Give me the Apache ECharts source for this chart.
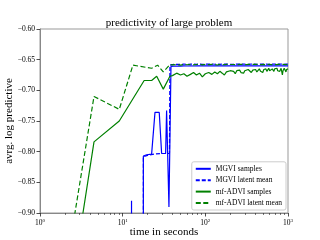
<!DOCTYPE html>
<html><head><meta charset="utf-8">
<script src="https://cdn.jsdelivr.net/npm/echarts@6/dist/echarts.min.js"></script>
<style>html,body{margin:0;padding:0;background:#fff}#c{width:320px;height:240px}</style>
</head><body><div id="c"></div>
<script>
// ---- data ----
var titleText = 'predictivity of large problem';
var xLabel = 'time in seconds';
var yLabel = 'avrg. log predictive';
var seriesNames = ['MGVI samples', 'MGVI latent mean', 'mf-ADVI samples', 'mf-ADVI latent mean'];
var yTicks = [-0.90, -0.85, -0.80, -0.75, -0.70, -0.65, -0.60];
var xTicks = [1, 10, 100, 1000];
var xMinorTicks = [2,3,4,5,6,7,8,9,20,30,40,50,60,70,80,90,200,300,400,500,600,700,800,900];

// early (sparse) parts
var mgviSamplesT = [12.7, 12.8, 12.9, 17.7, 17.8, 19.5, 22.4, 24.6, 27.7, 29.6, 33.1, 34.0, 36.3, 38.4];
var mgviSamplesV = [-2.0, -0.880, -2.0, -2.0, -0.807, -0.805, -0.804, -0.736, -0.736, -0.803, -0.803, -0.733, -0.890, -0.661];
var mgviMeanT = [17.7, 17.8, 20.0, 24.0, 29.0, 36.8, 37.3];
var mgviMeanV = [-2.0, -0.808, -0.806, -0.804, -0.803, -0.803, -0.659];
var advSamplesT = [2.0, 4.5, 9.1, 18.2, 22.4, 25.8, 31.0, 37.3];
var advSamplesV = [-1.09, -0.784, -0.750, -0.684, -0.684, -0.677, -0.698, -0.677];
var advMeanT = [2.0, 4.5, 9.1, 13.3, 22.4, 26.5, 31.0, 37.3];
var advMeanV = [-1.00, -0.710, -0.731, -0.659, -0.664, -0.659, -0.670, -0.658];

// later (dense) parts, shared times
var denseT = [40,45,50,55,60,66,72,78,85,92,100,110,120,130,140,150,160,170,180,190,200,210,220,230,240,250,260,270,280,290,300,315,330,345,360,375,390,405,420,435,450,465,480,495,510,525,540,555,570,585,600,615,630,645,660,675,690,705,720,735,750,765,780,795,810,825,840,855,870,885,900,915,930,945,960,975,990,1000];
var mgviSamplesDense = [-0.6605,-0.6603,-0.6604,-0.6602,-0.6603,-0.6602,-0.6603,-0.6602,-0.6601,-0.6602,-0.6601,-0.6602,-0.6601,-0.6602,-0.6601,-0.6601,-0.6602,-0.6601,-0.6601,-0.6602,-0.6601,-0.6601,-0.6602,-0.6601,-0.6601,-0.6601,-0.6602,-0.6601,-0.6601,-0.6601,-0.6602,-0.6601,-0.6601,-0.6601,-0.6601,-0.6602,-0.6601,-0.6601,-0.6601,-0.6601,-0.6602,-0.6601,-0.6601,-0.6601,-0.6601,-0.6601,-0.6602,-0.6601,-0.6601,-0.6601,-0.6601,-0.6601,-0.6602,-0.6601,-0.6601,-0.6601,-0.6601,-0.6601,-0.6601,-0.6602,-0.6601,-0.6601,-0.6601,-0.6601,-0.6601,-0.6601,-0.6602,-0.6601,-0.6601,-0.6601,-0.6601,-0.6601,-0.6601,-0.6601,-0.6602,-0.6601,-0.6601,-0.6601];
var mgviMeanDense = [-0.6580,-0.6575,-0.6578,-0.6572,-0.6576,-0.6574,-0.6570,-0.6575,-0.6573,-0.6577,-0.6572,-0.6574,-0.6571,-0.6575,-0.6573,-0.6576,-0.6572,-0.6574,-0.6573,-0.6571,-0.6575,-0.6572,-0.6574,-0.6576,-0.6572,-0.6573,-0.6571,-0.6575,-0.6573,-0.6572,-0.6574,-0.6573,-0.6575,-0.6572,-0.6573,-0.6571,-0.6574,-0.6573,-0.6575,-0.6572,-0.6574,-0.6573,-0.6572,-0.6575,-0.6573,-0.6571,-0.6574,-0.6572,-0.6573,-0.6575,-0.6572,-0.6574,-0.6573,-0.6572,-0.6574,-0.6573,-0.6575,-0.6572,-0.6573,-0.6574,-0.6572,-0.6573,-0.6575,-0.6572,-0.6574,-0.6573,-0.6572,-0.6574,-0.6573,-0.6575,-0.6572,-0.6573,-0.6574,-0.6572,-0.6573,-0.6575,-0.6572,-0.6573];
var advSamplesDense = [-0.676,-0.672,-0.675,-0.673,-0.677,-0.674,-0.671,-0.675,-0.672,-0.678,-0.673,-0.671,-0.674,-0.670,-0.673,-0.669,-0.672,-0.675,-0.670,-0.672,-0.668,-0.671,-0.669,-0.673,-0.668,-0.670,-0.667,-0.671,-0.669,-0.672,-0.668,-0.670,-0.666,-0.669,-0.671,-0.667,-0.669,-0.666,-0.670,-0.668,-0.665,-0.669,-0.667,-0.671,-0.666,-0.668,-0.665,-0.669,-0.667,-0.664,-0.668,-0.666,-0.670,-0.665,-0.667,-0.669,-0.665,-0.668,-0.666,-0.664,-0.668,-0.667,-0.665,-0.669,-0.666,-0.664,-0.667,-0.675,-0.668,-0.666,-0.664,-0.667,-0.665,-0.670,-0.666,-0.664,-0.667,-0.665];
var advMeanDense = [-0.6585,-0.6580,-0.6590,-0.6578,-0.6583,-0.6577,-0.6586,-0.6579,-0.6575,-0.6584,-0.6578,-0.6581,-0.6576,-0.6580,-0.6587,-0.6577,-0.6579,-0.6583,-0.6576,-0.6580,-0.6578,-0.6605,-0.6579,-0.6577,-0.6582,-0.6578,-0.6576,-0.6580,-0.6577,-0.6579,-0.6583,-0.6576,-0.6578,-0.6580,-0.6577,-0.6579,-0.6576,-0.6581,-0.6578,-0.6577,-0.6579,-0.6576,-0.6580,-0.6578,-0.6577,-0.6579,-0.6582,-0.6577,-0.6578,-0.6576,-0.6579,-0.6577,-0.6580,-0.6578,-0.6576,-0.6579,-0.6577,-0.6578,-0.6581,-0.6577,-0.6578,-0.6576,-0.6579,-0.6577,-0.6578,-0.6580,-0.6576,-0.6578,-0.6577,-0.6579,-0.6576,-0.6578,-0.6580,-0.6577,-0.6578,-0.6576,-0.6579,-0.6577];

// ---- build ----
function pairs(t, v, dt, dv) {
  var out = [];
  for (var i = 0; i < t.length; i++) out.push([t[i], v[i]]);
  for (var j = 0; j < dt.length; j++) out.push([dt[j], dv[j]]);
  return out;
}
var FONT = 'Liberation Serif';
var BLUE = '#0000ff', GREEN = '#008000';
var chart = echarts.init(document.getElementById('c'), null, {renderer: 'canvas'});
function supLabel(v) {
  var e = Math.round(Math.log10(v));
  return '10{s|' + e + '}';
}
var opt = {
  animation: false,
  backgroundColor: '#fff',
  title: {text: titleText, left: 164, top: 13, textAlign: 'center',
    textStyle: {fontFamily: FONT, fontSize: 11, fontWeight: 'normal', color: '#000'}},
  grid: {left: 40, right: 32, top: 29, bottom: 27, show: true, borderColor: '#999', borderWidth: 1,
    containLabel: false, outerBoundsMode: 'none'},
  legend: {
    right: 34, bottom: 30, orient: 'vertical', itemWidth: 15, itemHeight: 1, itemGap: 3.4,
    backgroundColor: 'rgba(255,255,255,0.8)', borderColor: '#ccc', borderWidth: 1, borderRadius: 2,
    padding: [3, 4, 3, 3],
    itemStyle: {opacity: 0, color: 'rgba(0,0,0,0)', borderWidth: 0},
    textStyle: {fontFamily: FONT, fontSize: 7.5, color: '#000', padding: [0,0,0,0]},
    data: seriesNames
  },
  xAxis: [{
    type: 'log', logBase: 10, min: 1, max: 1000, name: xLabel, nameLocation: 'middle', nameGap: 14,
    nameMoveOverlap: false,
    nameTextStyle: {fontFamily: FONT, fontSize: 11, color: '#000'},
    axisLine: {show: true, lineStyle: {color: '#888', width: 1}},
    axisTick: {show: true, length: 3.5, lineStyle: {color: '#222', width: 0.8}, customValues: xTicks},
    axisLabel: {show: true, margin: 5, fontFamily: FONT, fontSize: 7.5, color: '#000', customValues: xTicks,
      formatter: supLabel, rich: {s: {fontFamily: FONT, fontSize: 5, verticalAlign: 'top', padding: [0,0,5,0]}}},
    splitLine: {show: false}
  }, {
    type: 'log', logBase: 10, min: 1, max: 1000, position: 'bottom',
    axisLine: {show: false},
    axisTick: {show: true, length: 2, lineStyle: {color: '#222', width: 0.6}, customValues: xMinorTicks},
    axisLabel: {show: false}, splitLine: {show: false}
  }],
  yAxis: {
    type: 'value', min: -0.9, max: -0.6, interval: 0.05, name: yLabel, nameLocation: 'middle', nameGap: 25,
    nameMoveOverlap: false,
    nameTextStyle: {fontFamily: FONT, fontSize: 11, color: '#000'},
    axisLine: {show: true, lineStyle: {color: '#888', width: 1}},
    axisTick: {show: true, length: 3.5, lineStyle: {color: '#222', width: 0.8}},
    axisLabel: {margin: 5, fontFamily: FONT, fontSize: 7.5, color: '#000',
      formatter: function (v) { return v.toFixed(2).replace('-', '\u2212'); }},
    splitLine: {show: false}
  },
  series: [
    {name: seriesNames[0], type: 'line', symbol: 'none', clip: true, color: BLUE,
     lineStyle: {color: BLUE, width: 1.2}, data: pairs(mgviSamplesT, mgviSamplesV, denseT, mgviSamplesDense), z: 3},
    {name: seriesNames[1], type: 'line', symbol: 'none', clip: true, color: BLUE,
     lineStyle: {color: BLUE, width: 1.2, type: [4, 2]}, data: pairs(mgviMeanT, mgviMeanV, denseT, mgviMeanDense), z: 4},
    {name: seriesNames[2], type: 'line', symbol: 'none', clip: true, color: GREEN,
     lineStyle: {color: GREEN, width: 1.2}, data: pairs(advSamplesT, advSamplesV, denseT, advSamplesDense), z: 5},
    {name: seriesNames[3], type: 'line', symbol: 'none', clip: true, color: GREEN,
     lineStyle: {color: GREEN, width: 1.2, type: [5, 2.5]}, data: pairs(advMeanT, advMeanV, denseT, advMeanDense), z: 6}
  ]
};
chart.setOption(opt);
</script></body></html>
